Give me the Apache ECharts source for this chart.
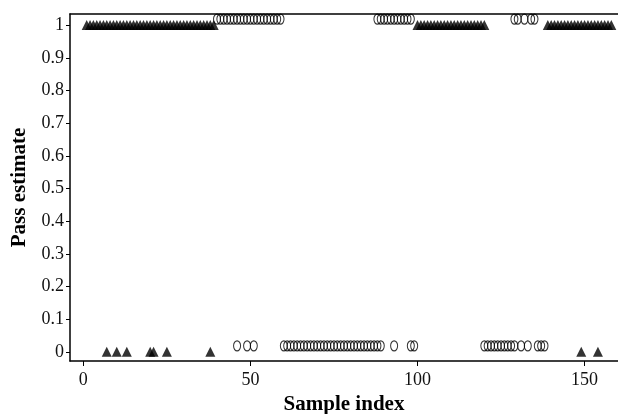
<!DOCTYPE html>
<html>
<head>
<meta charset="utf-8">
<script src="https://cdn.jsdelivr.net/npm/echarts@6/dist/echarts.min.js"></script>
<style>
html, body { margin: 0; padding: 0; background: #fff; }
#chart { width: 618px; height: 414px; }
</style>
</head>
<body>
<div id="chart"></div>
<script>
// sample indices, grouped by marker and estimate (0 / 1)
var triangleAtOne = [1, 2, 3, 4, 5, 6, 7, 8, 9, 10, 11, 12, 13, 14, 15, 16, 17, 18, 19, 20,
    21, 22, 23, 24, 25, 26, 27, 28, 29, 30, 31, 32, 33, 34, 35, 36, 37, 38, 39,
    100, 101, 102, 103, 104, 105, 106, 107, 108, 109, 110, 111, 112, 113, 114, 115, 116, 117, 118, 119, 120,
    139, 140, 141, 142, 143, 144, 145, 146, 147, 148, 149, 150, 151, 152, 153, 154, 155, 156, 157, 158];
var triangleAtZero = [7, 10, 13, 20, 21, 25, 38, 149, 154];
var circleAtOne = [40, 41, 42, 43, 44, 45, 46, 47, 48, 49, 50, 51, 52, 53, 54, 55, 56, 57, 58, 59,
    88, 89, 90, 91, 92, 93, 94, 95, 96, 97, 98,
    129, 130, 132, 134, 135];
var circleAtZero = [46, 49, 51,
    60, 61, 62, 63, 64, 65, 66, 67, 68, 69, 70, 71, 72, 73, 74, 75, 76, 77, 78, 79,
    80, 81, 82, 83, 84, 85, 86, 87, 88, 89,
    93, 98, 99,
    120, 121, 122, 123, 124, 125, 126, 127, 128, 129, 131, 133, 136, 137, 138];
var xTicks = [0, 50, 100, 150];
var yTicks = [0, 0.1, 0.2, 0.3, 0.4, 0.5, 0.6, 0.7, 0.8, 0.9, 1];

function toPoints(idx, v) {
    var out = [];
    for (var i = 0; i < idx.length; i++) {
        out.push([idx[i], v]);
    }
    return out;
}

var chart = echarts.init(document.getElementById('chart'));
var serif = 'Liberation Serif';
var option = {
    animation: false,
    grid: { left: 70, top: 14, right: 0, bottom: 53, containLabel: false, outerBoundsMode: 'none' },
    xAxis: [{
        type: 'value',
        min: -4,
        max: 160,
        name: 'Sample index',
        nameLocation: 'middle',
        nameGap: 30,
        nameTextStyle: { fontFamily: serif, fontWeight: 'bold', fontSize: 21, color: '#000' },
        splitLine: { show: false },
        axisLine: { onZero: false, lineStyle: { color: '#000', width: 1.5 } },
        axisTick: { customValues: xTicks, length: 5, lineStyle: { color: '#000' } },
        axisLabel: { customValues: xTicks, fontFamily: serif, fontSize: 18, color: '#111', margin: 10 }
    }, {
        // top frame line only
        type: 'value',
        position: 'top',
        min: -4,
        max: 160,
        splitLine: { show: false },
        axisLine: { onZero: false, lineStyle: { color: '#000', width: 1.5 } },
        axisTick: { show: false },
        axisLabel: { show: false }
    }],
    yAxis: {
        type: 'value',
        min: -0.028,
        max: 1.034,
        name: 'Pass estimate',
        nameLocation: 'middle',
        nameGap: 40,
        nameTextStyle: { fontFamily: serif, fontWeight: 'bold', fontSize: 21, color: '#000' },
        splitLine: { show: false },
        axisLine: { onZero: false, lineStyle: { color: '#000', width: 1.5 } },
        axisTick: { customValues: yTicks, length: 4, lineStyle: { color: '#000' } },
        axisLabel: { customValues: yTicks, fontFamily: serif, fontSize: 18, color: '#111', margin: 6 }
    },
    series: [{
        type: 'scatter',
        symbol: 'triangle',
        symbolSize: [10, 10],
        itemStyle: { color: '#000' },
        data: toPoints(triangleAtOne, 1).concat(toPoints(triangleAtZero, 0))
    }, {
        type: 'scatter',
        symbol: 'circle',
        symbolSize: [7, 10],
        symbolOffset: [0, -6],
        itemStyle: { color: 'rgba(0,0,0,0)', borderColor: '#000', borderWidth: 1.2 },
        data: toPoints(circleAtOne, 1).concat(toPoints(circleAtZero, 0))
    }]
};
chart.setOption(option);
</script>
</body>
</html>
